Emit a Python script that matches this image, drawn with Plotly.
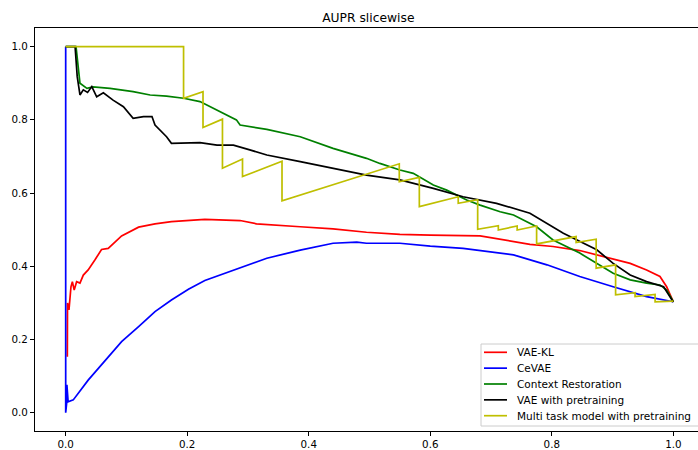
import plotly.graph_objects as go

# ---- data ----
names = ["VAE-KL", "CeVAE", "Context Restoration", "VAE with pretraining",
         "Multi task model with pretraining"]
colors = ["#ff0000", "#0000ff", "#008000", "#000000", "#bfbf00"]

red_x = [0.0027, 0.0030, 0.0054, 0.0087, 0.011, 0.014, 0.018, 0.0235, 0.029, 0.037,
         0.048, 0.059, 0.07, 0.092, 0.12, 0.147, 0.174, 0.202, 0.229, 0.287, 0.314,
         0.386, 0.44, 0.495, 0.55, 0.60, 0.682, 0.764, 0.802, 0.846, 0.896, 0.929,
         0.956, 0.978, 0.989, 1.0]
red_y = [0.153, 0.30, 0.281, 0.344, 0.358, 0.335, 0.358, 0.354, 0.376, 0.39,
         0.417, 0.446, 0.449, 0.483, 0.507, 0.516, 0.522, 0.526, 0.528, 0.525, 0.516,
         0.508, 0.502, 0.493, 0.487, 0.485, 0.483, 0.46, 0.454, 0.443, 0.422, 0.408,
         0.39, 0.372, 0.344, 0.303]

blue_x = [0.0, 0.0, 0.0016, 0.002, 0.004, 0.0125, 0.037, 0.065, 0.092, 0.12, 0.147,
          0.174, 0.202, 0.229, 0.276, 0.331, 0.386, 0.44, 0.479, 0.495, 0.55, 0.60,
          0.654, 0.737, 0.792, 0.846, 0.901, 0.956, 1.0]
blue_y = [1.0, 0.0, 0.026, 0.076, 0.03, 0.035, 0.089, 0.144, 0.194, 0.235, 0.276,
          0.308, 0.337, 0.361, 0.39, 0.422, 0.444, 0.463, 0.466, 0.463, 0.463, 0.455,
          0.449, 0.431, 0.404, 0.372, 0.344, 0.317, 0.303]

green_x = [0.0, 0.017, 0.0235, 0.029, 0.035, 0.045, 0.056, 0.073, 0.111, 0.139, 0.166,
           0.194, 0.221, 0.249, 0.276, 0.281, 0.287, 0.331, 0.386, 0.44, 0.495, 0.517,
           0.55, 0.572, 0.605, 0.627, 0.66, 0.682, 0.715, 0.737, 0.775, 0.802, 0.846,
           0.874, 0.901, 0.929, 0.956, 0.978, 0.989, 1.0]
green_y = [1.0, 1.0, 0.9, 0.893, 0.886, 0.89, 0.889, 0.886, 0.877, 0.868, 0.865,
           0.859, 0.85, 0.827, 0.805, 0.80, 0.786, 0.774, 0.754, 0.722, 0.695, 0.681,
           0.663, 0.654, 0.622, 0.608, 0.581, 0.567, 0.549, 0.54, 0.508, 0.472, 0.436,
           0.408, 0.381, 0.363, 0.354, 0.349, 0.335, 0.303]

black_x = [0.0, 0.0155, 0.019, 0.0235, 0.029, 0.036, 0.043, 0.051, 0.062, 0.078, 0.095,
           0.111, 0.128, 0.142, 0.147, 0.166, 0.174, 0.221, 0.249, 0.276, 0.303, 0.331,
           0.386, 0.44, 0.495, 0.55, 0.605, 0.654, 0.709, 0.764, 0.819, 0.874, 0.901,
           0.929, 0.956, 0.984, 1.0]
black_y = [1.0, 1.0, 0.918, 0.868, 0.882, 0.875, 0.891, 0.863, 0.874, 0.854, 0.836,
           0.804, 0.809, 0.809, 0.786, 0.754, 0.736, 0.738, 0.731, 0.731, 0.718, 0.704,
           0.686, 0.668, 0.649, 0.636, 0.613, 0.59, 0.572, 0.545, 0.49, 0.445, 0.408,
           0.376, 0.358, 0.344, 0.302]

yellow_x = [0.0, 0.194, 0.194, 0.226, 0.226, 0.258, 0.258, 0.291, 0.291, 0.356, 0.356,
            0.549, 0.549, 0.582, 0.582, 0.646, 0.646, 0.678, 0.678, 0.712, 0.712, 0.743,
            0.743, 0.775, 0.775, 0.84, 0.84, 0.873, 0.873, 0.905, 0.905, 0.937, 0.937,
            0.97, 0.97, 1.0]
yellow_y = [1.0, 1.0, 0.859, 0.877, 0.779, 0.802, 0.668, 0.693, 0.645, 0.687, 0.579,
            0.68, 0.631, 0.643, 0.563, 0.59, 0.572, 0.582, 0.501, 0.511, 0.499, 0.51,
            0.499, 0.51, 0.461, 0.481, 0.465, 0.474, 0.395, 0.404, 0.322, 0.328, 0.317,
            0.323, 0.303, 0.305]

tick_vals = [0.0, 0.2, 0.4, 0.6, 0.8, 1.0]
tick_text = ["0.0", "0.2", "0.4", "0.6", "0.8", "1.0"]

series = [(red_x, red_y), (blue_x, blue_y), (green_x, green_y),
          (black_x, black_y), (yellow_x, yellow_y)]

W, H = 698, 450
ML, MR, MT, MB = 35, 0, 28, 19
PW, PH = W - ML - MR, H - MT - MB

def px_to_paper_x(px):
    return (px - ML) / PW

def px_to_paper_y(py):
    return (H - MB - py) / PH

fig = go.Figure()
for (xs, ys), name, col in zip(series, names, colors):
    fig.add_trace(go.Scatter(x=xs, y=ys, mode="lines", name=name, showlegend=False,
                             line=dict(color=col, width=1.7)))

font = "DejaVu Sans, sans-serif"

# legend drawn in matplotlib style (box, line samples, labels)
shapes = [dict(type="rect", xref="paper", yref="paper",
               x0=px_to_paper_x(481), x1=px_to_paper_x(706),
               y0=px_to_paper_y(426), y1=px_to_paper_y(344),
               line=dict(color="#cccccc", width=1), fillcolor="rgba(255,255,255,0.8)",
               layer="above")]
annotations = []
row_y0, row_step = 352.3, 15.85
for i, (name, col) in enumerate(zip(names, colors)):
    cy = row_y0 + i * row_step
    shapes.append(dict(type="line", xref="paper", yref="paper",
                       x0=px_to_paper_x(484), x1=px_to_paper_x(507),
                       y0=px_to_paper_y(cy), y1=px_to_paper_y(cy),
                       line=dict(color=col, width=1.7), layer="above"))
    annotations.append(dict(text=name, xref="paper", yref="paper",
                            x=px_to_paper_x(515), y=px_to_paper_y(cy),
                            xanchor="left", yanchor="middle", showarrow=False,
                            font=dict(family=font, size=10.5, color="black")))

axis_common = dict(showgrid=False, zeroline=False, showline=True, linecolor="black",
                   linewidth=1, ticks="outside", ticklen=4, tickcolor="black",
                   tickwidth=1, tickvals=tick_vals, ticktext=tick_text,
                   tickfont=dict(family=font, size=10.3, color="black"))

fig.update_layout(
    width=W, height=H,
    margin=dict(l=ML, r=MR, t=MT, b=MB),
    paper_bgcolor="white", plot_bgcolor="white",
    title=dict(text="AUPR slicewise", x=0.5277, xanchor="center", y=0.96,
               yanchor="middle", font=dict(family=font, size=12.3, color="black")),
    xaxis=dict(range=[-0.0505, 1.0406], mirror=True, **axis_common),
    yaxis=dict(range=[-0.05, 1.051], mirror=False, **axis_common),
    shapes=shapes,
    annotations=annotations,
    showlegend=False,
)

fig.write_html("out.html", config={"displayModeBar": False},
               post_script="document.body.style.margin='0';")
